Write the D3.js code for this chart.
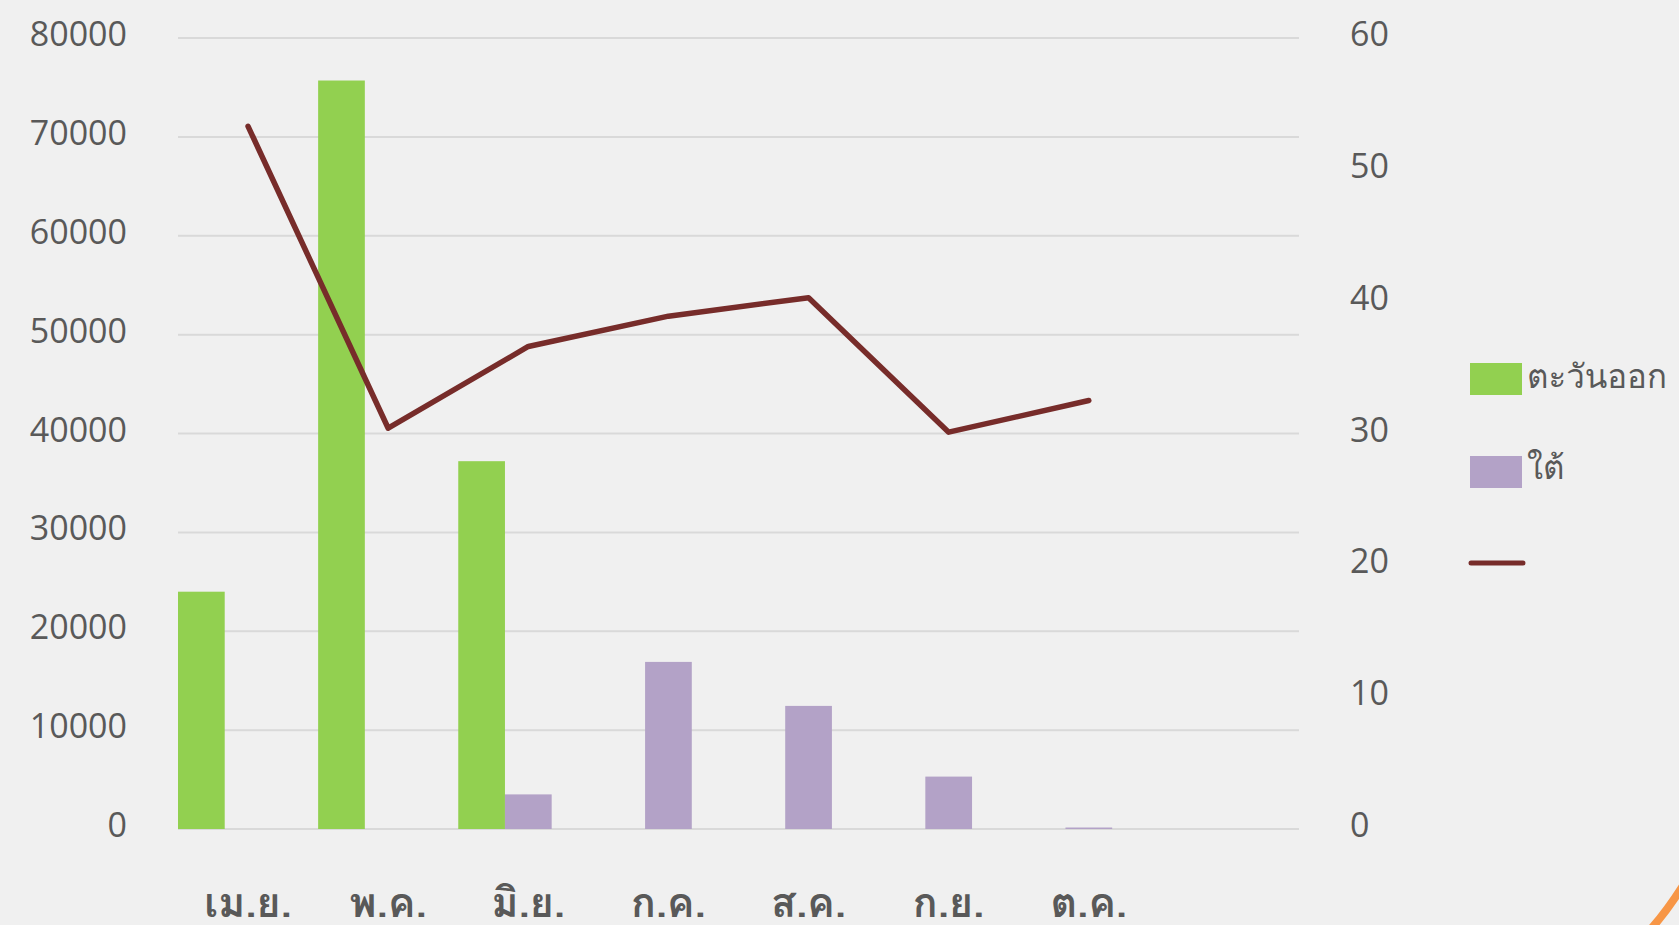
<!DOCTYPE html>
<html lang="th">
<head>
<meta charset="UTF-8">
<title>ตะวันออก / ใต้</title>
<script src="https://cdnjs.cloudflare.com/ajax/libs/d3/7.8.5/d3.min.js"></script>
<style>
    html, body { margin: 0; padding: 0; background: #f0f0f0; overflow: hidden; }
    svg { display: block; }
    text { font-family: "Open Sans", "Noto Sans", sans-serif; fill: #595959; }
    text.thai { font-family: "Loma", "Garuda", "Noto Sans Thai Looped", "Noto Sans Thai", "Open Sans", sans-serif; }
</style>
</head>
<body>
<svg width="1679" height="925"></svg>
<script>
    // data
    const months = ["เม.ย.", "พ.ค.", "มิ.ย.", "ก.ค.", "ส.ค.", "ก.ย.", "ต.ค.", ""];
    const east = [24000, 75700, 37200, 0, 0, 0, 0, null];
    const south = [0, 0, 3500, 16900, 12450, 5300, 150, null];
    const lineVals = [53.3, 30.4, 36.6, 38.9, 40.3, 30.1, 32.5, null];
    const leftTicks = [0, 10000, 20000, 30000, 40000, 50000, 60000, 70000, 80000];
    const rightTicks = [0, 10, 20, 30, 40, 50, 60];

    const svg = d3.select("svg");

    const x = d3.scaleBand().domain(d3.range(months.length)).range([178, 1299]).padding(0);
    // three slots per month, the third one stays empty as in the original
    const slot = d3.scaleBand().domain(["east", "south", "none"]).range([0, x.bandwidth()]).padding(0);
    const yL = d3.scaleLinear().domain([0, 80000]).range([829, 38]);
    const yR = d3.scaleLinear().domain([0, 60]).range([829, 38]);

    // grid
    svg.append("g").selectAll("line")
        .data(leftTicks)
        .enter().append("line")
        .attr("x1", 178).attr("x2", 1299)
        .attr("y1", d => yL(d)).attr("y2", d => yL(d))
        .attr("stroke", "#d9d9d9").attr("stroke-width", 2);

    // left axis labels
    svg.append("g").selectAll("text")
        .data(leftTicks)
        .enter().append("text")
        .attr("x", 127).attr("y", d => yL(d) + 8)
        .attr("text-anchor", "end")
        .style("font-size", "34px")
        .text(d => d);

    // right axis labels
    svg.append("g").selectAll("text")
        .data(rightTicks)
        .enter().append("text")
        .attr("x", 1350).attr("y", d => yR(d) + 8)
        .style("font-size", "34px")
        .text(d => d);

    // bars
    const bars = svg.append("g");
    bars.selectAll(".east")
        .data(east.map((v, i) => ({ v, i })).filter(d => d.v))
        .enter().append("rect")
        .attr("class", "east")
        .attr("x", d => x(d.i) + slot("east"))
        .attr("width", slot.bandwidth())
        .attr("y", d => yL(d.v))
        .attr("height", d => yL(0) - yL(d.v))
        .attr("fill", "#92d050");
    bars.selectAll(".south")
        .data(south.map((v, i) => ({ v, i })).filter(d => d.v))
        .enter().append("rect")
        .attr("class", "south")
        .attr("x", d => x(d.i) + slot("south"))
        .attr("width", slot.bandwidth())
        .attr("y", d => yL(d.v))
        .attr("height", d => Math.max(1.5, yL(0) - yL(d.v)))
        .attr("fill", "#b3a2c7");

    // line on the right axis
    const line = d3.line()
        .defined(d => d != null)
        .x((d, i) => x(i) + x.bandwidth() / 2)
        .y(d => yR(d));
    svg.append("path")
        .datum(lineVals)
        .attr("d", line)
        .attr("fill", "none")
        .attr("stroke", "#772c2a")
        .attr("stroke-width", 5.5)
        .attr("stroke-linecap", "round")
        .attr("stroke-linejoin", "round");

    // month labels
    svg.append("g").selectAll("text")
        .data(months)
        .enter().append("text")
        .attr("class", "thai")
        .attr("x", (d, i) => x(i) + x.bandwidth() / 2)
        .attr("y", 917)
        .attr("text-anchor", "middle")
        .style("font-size", "41px")
        .style("font-weight", "600")
        .text(d => d);

    // legend
    const legend = svg.append("g");
    legend.append("rect").attr("x", 1470).attr("y", 363).attr("width", 52).attr("height", 32).attr("fill", "#92d050");
    legend.append("text").attr("class", "thai").attr("x", 1527).attr("y", 388).style("font-size", "33px").text("ตะวันออก");
    legend.append("rect").attr("x", 1470).attr("y", 456).attr("width", 52).attr("height", 32).attr("fill", "#b3a2c7");
    legend.append("text").attr("class", "thai").attr("x", 1527).attr("y", 479).style("font-size", "33px").text("ใต้");
    legend.append("line").attr("x1", 1471).attr("x2", 1523).attr("y1", 563).attr("y2", 563)
        .attr("stroke", "#772c2a").attr("stroke-width", 5).attr("stroke-linecap", "round");

    // orange corner decoration
    svg.append("path")
        .attr("d", "M1650,930 Q1667,911 1684,884")
        .attr("fill", "none")
        .attr("stroke", "#f79646")
        .attr("stroke-width", 8);
</script>
</body>
</html>
